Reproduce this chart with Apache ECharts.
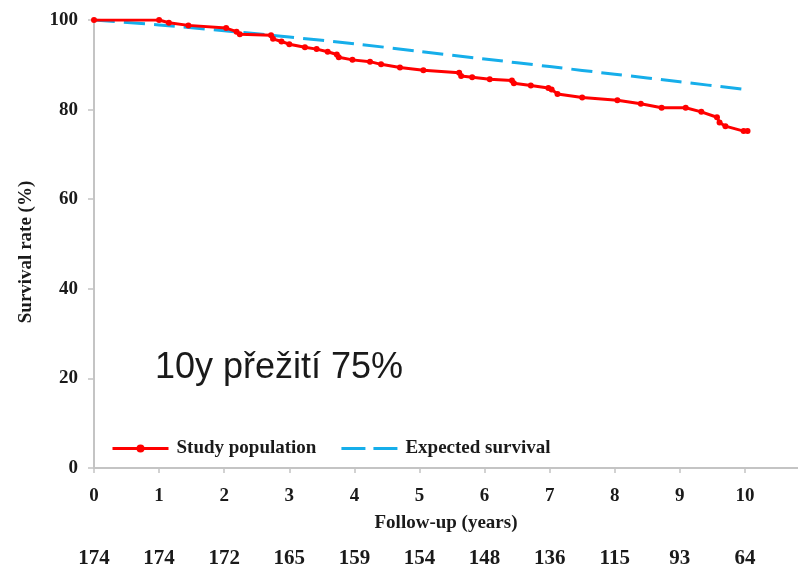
<!DOCTYPE html>
<html>
<head>
<meta charset="utf-8">
<script src="https://cdn.jsdelivr.net/npm/echarts@6/dist/echarts.min.js"></script>
<style>
  html, body { margin: 0; padding: 0; background: #fff; }
  #chart { width: 798px; height: 567px; }
</style>
</head>
<body>
<div id="chart"></div>
<script>
// Kaplan-Meier estimate of the study population (years, %)
const studyYears = [0, 1.0, 1.15, 1.45, 2.03, 2.19, 2.24, 2.72, 2.75, 2.88, 3.0, 3.24, 3.42, 3.59, 3.73, 3.76,
  3.97, 4.24, 4.41, 4.70, 5.06, 5.61, 5.64, 5.81, 6.08, 6.42, 6.45, 6.71, 6.98, 7.03, 7.12, 7.50,
  8.04, 8.40, 8.72, 9.09, 9.33, 9.57, 9.61, 9.70, 9.98, 10.04];
const studySurvival = [100, 100, 99.4, 98.8, 98.2, 97.4, 96.8, 96.6, 95.8, 95.2, 94.6, 93.9, 93.5, 92.9, 92.3, 91.7,
  91.1, 90.7, 90.1, 89.4, 88.8, 88.2, 87.5, 87.2, 86.8, 86.5, 85.9, 85.4, 84.8, 84.5, 83.5, 82.7,
  82.1, 81.3, 80.4, 80.4, 79.5, 78.3, 77.1, 76.3, 75.2, 75.2];

// Expected survival of the matched general population
const expectedYears = [0, 1, 2, 3, 4, 5, 6, 7, 8, 9, 10];
const expectedSurvival = [100, 98.9, 97.6, 96.2, 94.7, 93.0, 91.3, 89.6, 87.9, 86.2, 84.5];

// Number at risk at each year
const riskYears = [0, 1, 2, 3, 4, 5, 6, 7, 8, 9, 10];
const atRisk = [174, 174, 172, 165, 159, 154, 148, 136, 115, 93, 64];

const yTicks = [0, 20, 40, 60, 80, 100];

const serif = '"Liberation Serif", "Times New Roman", serif';
const ink = '#1a1a1a';
const axisGrey = '#c4c4c4';

const zip = (xs, ys) => xs.map((x, i) => [x, ys[i]]);

// two-dash legend icon for the expected-survival curve
const dashedIcon = 'path://M0,0H24V3H0Z M32,0H56V3H32Z';

const chart = echarts.init(document.getElementById('chart'), null, { renderer: 'canvas' });

chart.setOption({
  animation: false,
  backgroundColor: '#ffffff',
  grid: { left: 94, right: 0, top: 20, bottom: 99, containLabel: false, outerBoundsMode: 'none' },
  title: {
    text: '10y přežití 75%',
    left: 150,
    top: 345,
    textStyle: { fontFamily: '"Liberation Sans", Arial, sans-serif', fontSize: 36, fontWeight: 'normal', color: ink }
  },
  legend: {
    left: 106,
    top: 434,
    itemWidth: 56,
    itemHeight: 10,
    itemGap: 25,
    textStyle: { fontFamily: serif, fontSize: 19, fontWeight: 'bold', color: ink, padding: [0, 0, 0, 3] },
    data: [
      { name: 'Study population', lineStyle: { width: 3 } },
      { name: 'Expected survival', icon: dashedIcon, itemStyle: { color: '#16aeea' } }
    ]
  },
  xAxis: [
    {
      type: 'value',
      min: 0,
      max: 10.815,
      name: 'Follow-up (years)',
      nameLocation: 'middle',
      nameGap: 46,
      nameTextStyle: { fontFamily: serif, fontSize: 19, fontWeight: 'bold', color: ink },
      axisLine: { show: true, lineStyle: { color: axisGrey, width: 2 } },
      axisTick: { show: true, length: 5, lineStyle: { color: axisGrey, width: 1.5 }, customValues: riskYears },
      axisLabel: { margin: 19, fontFamily: serif, fontSize: 19, fontWeight: 'bold', color: ink, customValues: riskYears },
      splitLine: { show: false }
    },
    {
      // number-at-risk row under the axis
      type: 'value',
      min: 0,
      max: 10.815,
      position: 'bottom',
      offset: 74,
      axisLine: { show: false },
      axisTick: { show: false },
      splitLine: { show: false },
      axisLabel: {
        margin: 6,
        fontFamily: serif,
        fontSize: 21,
        fontWeight: 'bold',
        color: ink,
        customValues: riskYears,
        formatter: v => {
          const i = riskYears.indexOf(Math.round(v));
          return i >= 0 ? String(atRisk[i]) : '';
        }
      }
    }
  ],
  yAxis: {
    type: 'value',
    min: 0,
    max: 100,
    interval: 20,
    name: 'Survival rate (%)',
    nameLocation: 'middle',
    nameGap: 58,
    nameTextStyle: { fontFamily: serif, fontSize: 19, fontWeight: 'bold', color: ink, padding: [0, 0, 0, -16] },
    axisLine: { show: true, lineStyle: { color: axisGrey, width: 2 } },
    axisTick: { show: true, length: 6, lineStyle: { color: axisGrey, width: 1.5 } },
    axisLabel: { margin: 16, fontFamily: serif, fontSize: 19, fontWeight: 'bold', color: ink,
      padding: [9, 0, 0, 0], customValues: yTicks },
    splitLine: { show: false }
  },
  series: [
    {
      name: 'Expected survival',
      type: 'line',
      xAxisIndex: 0,
      data: zip(expectedYears, expectedSurvival),
      symbol: 'none',
      smooth: 0.3,
      lineStyle: { color: '#16aeea', width: 3, type: [21, 9] },
      itemStyle: { color: '#16aeea' },
      z: 2
    },
    {
      name: 'Study population',
      type: 'line',
      xAxisIndex: 0,
      data: zip(studyYears, studySurvival),
      symbol: 'circle',
      symbolSize: 6,
      showAllSymbol: true,
      lineStyle: { color: '#ff0000', width: 3 },
      itemStyle: { color: '#ff0000' },
      z: 3
    }
  ]
});
</script>
</body>
</html>
